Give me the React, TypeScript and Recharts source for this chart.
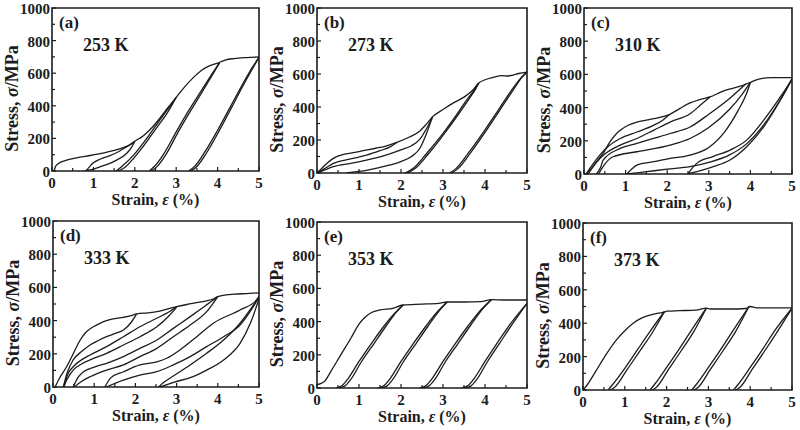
import React from "react";
import { LineChart, Line, XAxis, YAxis, ReferenceArea } from "recharts";

type Pt = [number, number];

const INK = "#1c1c1c";
const FONT = "'Liberation Serif', 'Times New Roman', serif";

const xTicks = [0, 0.5, 1, 1.5, 2, 2.5, 3, 3.5, 4, 4.5, 5];
const yTicks = [0, 100, 200, 300, 400, 500, 600, 700, 800, 900, 1000];

const panelTags = ["(a)", "(b)", "(c)", "(d)", "(e)", "(f)"];
const temperatures = ["253 K", "273 K", "310 K", "333 K", "353 K", "373 K"];

// strain (%) vs stress (MPa); envelope = monotonic loading path, loops = unload/reload branches
const envelope253: Pt[] = [
  [0.05, 0], [0.08, 25], [0.15, 45], [0.3, 62], [0.5, 76], [0.8, 90], [1.1, 103], [1.4, 120],
  [1.7, 142], [1.9, 163], [2.0, 182], [2.2, 215], [2.4, 262], [2.6, 322], [2.8, 388], [3.0, 452],
  [3.2, 515], [3.4, 570], [3.6, 615], [3.8, 645], [4.0, 662], [4.1, 672], [4.2, 682], [4.4, 690],
  [4.7, 696], [5.0, 700],
];
const loops253: Pt[][] = [
  [[0.78, 0], [0.95, 8], [1.16, 26], [1.35, 42], [1.56, 67], [1.8, 107], [1.92, 145], [2.0, 182]],
  [[0.82, 0], [0.92, 30], [1.0, 50], [1.16, 72], [1.35, 90], [1.56, 112], [1.8, 148], [2.0, 182]],
  [[1.55, 0], [1.7, 30], [1.97, 97], [2.17, 160], [2.37, 229], [2.57, 300], [2.77, 371], [3.0, 452]],
  [[1.6, 0], [1.75, 20], [1.97, 77], [2.17, 140], [2.37, 209], [2.57, 280], [2.77, 351], [3.0, 452]],
  [[2.35, 0], [2.5, 35], [2.7, 105], [3.0, 240], [3.3, 370], [3.6, 490], [3.85, 590], [4.05, 665]],
  [[2.4, 0], [2.55, 30], [2.75, 100], [3.05, 240], [3.35, 370], [3.65, 495], [3.9, 600], [4.05, 665]],
  [[3.3, 0], [3.45, 30], [3.7, 120], [4.0, 250], [4.3, 390], [4.6, 530], [4.85, 640], [5.0, 697]],
  [[3.35, 0], [3.5, 28], [3.75, 118], [4.05, 252], [4.35, 395], [4.65, 540], [4.88, 645], [5.0, 697]],
];

const envelope273: Pt[] = [
  [0, 0], [0.1, 25], [0.2, 50], [0.3, 72], [0.4, 90], [0.6, 110], [0.8, 120], [1.0, 130],
  [1.2, 140], [1.4, 150], [1.6, 160], [1.9, 185], [2.2, 218], [2.45, 255], [2.6, 295], [2.75, 340],
  [3.0, 385], [3.25, 425], [3.5, 460], [3.7, 500], [3.85, 545], [4.0, 565], [4.2, 580], [4.4, 590],
  [4.55, 588], [4.65, 592], [4.8, 603], [5.0, 612],
];
const loops273: Pt[][] = [
  [[0, 0], [0.2, 30], [0.39, 58], [0.8, 85], [1.18, 108], [1.5, 135], [1.74, 158], [1.9, 185]],
  [[0, 0], [0.2, 20], [0.39, 38], [0.8, 58], [1.18, 78], [1.6, 105], [1.98, 139], [2.25, 165], [2.45, 205], [2.6, 265], [2.75, 340]],
  [[0.7, 0], [0.9, 7], [1.18, 16], [1.57, 38], [1.98, 68], [2.25, 100], [2.45, 150], [2.6, 235], [2.75, 340]],
  [[2.1, 0], [2.3, 30], [2.6, 115], [3.0, 240], [3.3, 345], [3.6, 455], [3.75, 505], [3.85, 545]],
  [[2.15, 0], [2.35, 30], [2.65, 115], [3.05, 245], [3.35, 350], [3.65, 460], [3.78, 510], [3.85, 545]],
  [[3.15, 0], [3.3, 25], [3.6, 120], [4.0, 262], [4.3, 375], [4.6, 490], [4.85, 575], [5.0, 612]],
  [[3.2, 0], [3.35, 25], [3.65, 120], [4.05, 265], [4.35, 380], [4.65, 495], [4.88, 580], [5.0, 612]],
];

const envelope310: Pt[] = [
  [0.05, 0], [0.2, 40], [0.35, 90], [0.46, 124], [0.6, 185], [0.75, 235], [0.87, 263], [1.05, 292],
  [1.27, 313], [1.5, 325], [1.67, 333], [1.85, 342], [2.05, 358], [2.3, 394], [2.55, 428], [2.8, 450],
  [3.03, 464], [3.3, 495], [3.55, 515], [3.8, 532], [4.0, 552], [4.2, 572], [4.5, 580], [5.0, 580],
];
const loops310: Pt[][] = [
  [[0.05, 0], [0.2, 55], [0.4, 120], [0.6, 170], [0.87, 214], [1.27, 253], [1.67, 293], [1.9, 325], [2.05, 358]],
  [[0.1, 0], [0.3, 70], [0.5, 120], [0.87, 174], [1.27, 214], [1.67, 263], [2.07, 313], [2.55, 363], [2.8, 415], [3.03, 464]],
  [[0.3, 0], [0.4, 40], [0.46, 84], [0.87, 154], [1.27, 184], [1.67, 214], [2.07, 244], [2.55, 283], [3.0, 360], [3.5, 455], [3.9, 545]],
  [[0.35, 0], [0.5, 60], [0.7, 104], [1.27, 134], [2.07, 174], [2.55, 214], [3.0, 280], [3.5, 390], [3.8, 480], [4.0, 552]],
  [[1.03, 0], [1.15, 30], [1.27, 54], [1.67, 74], [2.07, 94], [2.55, 114], [3.0, 160], [3.4, 260], [3.7, 380], [3.9, 480], [4.0, 552]],
  [[1.03, 0], [1.5, 14], [2.0, 29], [2.55, 44], [3.0, 70], [3.5, 115], [3.9, 180], [4.3, 290], [4.7, 440], [5.0, 575]],
  [[2.5, 0], [2.6, 35], [2.71, 64], [3.1, 105], [3.51, 144], [3.91, 204], [4.32, 324], [4.72, 464], [5.0, 570]],
  [[2.48, 0], [2.8, 20], [3.11, 44], [3.51, 84], [3.91, 164], [4.32, 284], [4.72, 444], [5.0, 570]],
];

const envelope333: Pt[] = [
  [0.05, 0], [0.15, 50], [0.33, 122], [0.5, 205], [0.66, 283], [0.8, 330], [0.98, 363], [1.15, 385],
  [1.3, 400], [1.5, 412], [1.71, 420], [1.9, 430], [2.03, 440], [2.3, 447], [2.52, 454], [2.75, 468],
  [3.0, 484], [3.25, 497], [3.49, 508], [3.7, 518], [3.89, 530], [4.0, 545], [4.2, 555], [4.4, 559],
  [4.7, 563], [5.0, 567],
];
const loops333: Pt[][] = [
  [[0.25, 0], [0.35, 90], [0.49, 163], [0.7, 215], [0.9, 253], [1.1, 280], [1.3, 303], [1.5, 322], [1.71, 343], [1.9, 390], [2.03, 440]],
  [[0.27, 0], [0.35, 70], [0.49, 122], [0.7, 165], [0.9, 193], [1.3, 243], [1.71, 303], [2.11, 363], [2.52, 414], [2.8, 450], [3.0, 484]],
  [[0.25, 0], [0.35, 50], [0.49, 102], [0.7, 140], [0.9, 163], [1.3, 203], [1.71, 253], [2.11, 303], [2.52, 363], [2.8, 425], [3.0, 480]],
  [[0.49, 0], [0.6, 55], [0.74, 92], [1.0, 120], [1.3, 143], [1.71, 183], [2.11, 233], [2.52, 283], [2.92, 353], [3.33, 424], [3.7, 490], [3.89, 524], [4.0, 545]],
  [[0.51, 0], [0.7, 35], [0.9, 62], [1.3, 102], [1.71, 133], [2.11, 183], [2.52, 233], [2.92, 303], [3.33, 373], [3.73, 454], [4.0, 545]],
  [[1.26, 0], [1.4, 55], [1.71, 92], [2.11, 133], [2.52, 152], [2.76, 173], [3.08, 223], [3.49, 303], [3.89, 384], [4.54, 464], [4.94, 524], [5.0, 545]],
  [[1.29, 0], [1.71, 42], [2.11, 72], [2.52, 92], [2.92, 133], [3.33, 183], [3.73, 243], [4.14, 303], [4.54, 373], [4.8, 460], [5.0, 540]],
  [[2.56, 0], [2.7, 30], [2.92, 66], [3.33, 133], [3.73, 203], [4.14, 283], [4.54, 384], [4.8, 470], [5.0, 545]],
  [[2.6, 0], [2.95, 30], [3.33, 56], [3.73, 102], [4.14, 163], [4.54, 263], [4.8, 390], [5.0, 530]],
];

const envelope353: Pt[] = [
  [0, 20], [0.1, 28], [0.18, 40], [0.33, 100], [0.57, 201], [0.81, 301], [1.0, 385], [1.15, 428],
  [1.3, 455], [1.5, 470], [1.8, 480], [2.05, 500], [2.5, 505], [2.9, 510], [3.1, 518], [3.5, 518],
  [3.9, 520], [4.15, 532], [4.5, 530], [5.0, 530],
];
const loops353: Pt[][] = [
  [[0.45, 0], [0.6, 15], [0.75, 60], [1.0, 160], [1.3, 270], [1.6, 375], [1.85, 450], [2.05, 500]],
  [[0.5, 0], [0.65, 10], [0.8, 50], [1.05, 155], [1.35, 265], [1.65, 375], [1.9, 460], [2.05, 500]],
  [[1.45, 0], [1.6, 15], [1.75, 60], [2.0, 160], [2.3, 270], [2.6, 375], [2.85, 455], [3.1, 518]],
  [[1.5, 0], [1.65, 10], [1.8, 50], [2.05, 155], [2.35, 265], [2.65, 375], [2.9, 462], [3.1, 518]],
  [[2.45, 0], [2.6, 15], [2.75, 60], [3.0, 160], [3.3, 270], [3.6, 375], [3.9, 470], [4.15, 532]],
  [[2.5, 0], [2.65, 10], [2.8, 50], [3.05, 155], [3.35, 265], [3.65, 375], [3.95, 478], [4.15, 532]],
  [[3.45, 0], [3.6, 15], [3.75, 60], [4.0, 160], [4.3, 275], [4.6, 385], [4.85, 465], [5.0, 510]],
  [[3.5, 0], [3.65, 10], [3.8, 50], [4.05, 155], [4.35, 270], [4.65, 385], [4.88, 468], [5.0, 510]],
];

const envelope373: Pt[] = [
  [0, 0], [0.1, 30], [0.3, 110], [0.52, 200], [0.8, 300], [1.0, 355], [1.2, 400], [1.4, 430],
  [1.6, 448], [1.8, 460], [1.95, 466], [2.0, 472], [2.3, 475], [2.7, 478], [2.95, 490], [3.05, 485],
  [3.5, 485], [3.9, 488], [4.0, 500], [4.15, 492], [4.6, 492], [5.0, 492],
];
const loops373: Pt[][] = [
  [[0.6, 0], [0.7, 30], [1.0, 130], [1.3, 240], [1.6, 350], [1.95, 470]],
  [[0.65, 0], [0.75, 15], [1.05, 120], [1.35, 230], [1.65, 340], [1.95, 470]],
  [[1.6, 0], [1.7, 30], [2.0, 135], [2.3, 245], [2.6, 360], [2.95, 490]],
  [[1.65, 0], [1.75, 15], [2.05, 125], [2.35, 235], [2.65, 350], [2.95, 490]],
  [[2.6, 0], [2.7, 30], [3.0, 135], [3.3, 245], [3.6, 360], [3.97, 500]],
  [[2.65, 0], [2.75, 15], [3.05, 125], [3.35, 235], [3.65, 350], [3.97, 500]],
  [[3.6, 0], [3.7, 30], [4.0, 135], [4.3, 245], [4.6, 360], [5.0, 490]],
  [[3.65, 0], [3.75, 15], [4.05, 125], [4.35, 235], [4.65, 350], [5.0, 490]],
];

const envelopes = [envelope253, envelope273, envelope310, envelope333, envelope353, envelope373];
const loopSets = [loops253, loops273, loops310, loops333, loops353, loops373];

// plot rectangles on the page (left, top, width, height)
const plotBoxes = [
  { left: 52, top: 8, w: 207, h: 163 },
  { left: 317, top: 8, w: 210, h: 165 },
  { left: 584, top: 8, w: 208, h: 166 },
  { left: 53, top: 221, w: 206, h: 166 },
  { left: 317, top: 222, w: 210, h: 166 },
  { left: 583, top: 223, w: 209, h: 167 },
];

// chart margins around each plot rectangle; MT leaves room for the "1000" label
const ML = 52;
const MT = 12;
const MR = 5;
const XH = 40;

function XTick(props: any) {
  const { x, y, payload } = props;
  const v = payload.value as number;
  const major = Number.isInteger(v);
  return (
    <g>
      <line x1={x} x2={x} y1={y} y2={y - (major ? 4 : 3)} stroke={INK} strokeWidth={1.2} />
      {major && (
        <text x={x} y={y + 17} textAnchor="middle" fontFamily={FONT} fontWeight="bold" fontSize={15} fill={INK}>
          {v}
        </text>
      )}
    </g>
  );
}

function YTick(props: any) {
  const { x, y, payload } = props;
  const v = payload.value as number;
  const major = v % 200 === 0;
  return (
    <g>
      <line x1={x} x2={x + (major ? 4 : 3)} y1={y} y2={y} stroke={INK} strokeWidth={1.2} />
      {major && (
        <text x={x - 2} y={y + 6} textAnchor="end" fontFamily={FONT} fontWeight="bold" fontSize={15} fill={INK}>
          {v}
        </text>
      )}
    </g>
  );
}

function toRows(pts: Pt[]) {
  return pts.map(([x, y]) => ({ x, y }));
}

function Panel({ index }: { index: number }) {
  const box = plotBoxes[index];
  const width = box.w + ML + MR;
  const height = box.h + MT + XH;
  const curves = [envelopes[index], ...loopSets[index]];
  return (
    <div style={{ position: "absolute", left: box.left - ML, top: box.top - MT, width, height }}>
      <LineChart width={width} height={height} margin={{ top: MT, right: MR, bottom: 0, left: 0 }}>
        <XAxis
          dataKey="x"
          type="number"
          domain={[0, 5]}
          ticks={xTicks}
          interval={0}
          allowDataOverflow
          height={XH}
          tickSize={0}
          tickMargin={0}
          tickLine={false}
          axisLine={false}
          tick={<XTick />}
        />
        <YAxis
          type="number"
          domain={[0, 1000]}
          ticks={yTicks}
          interval={0}
          allowDataOverflow
          width={ML}
          tickSize={0}
          tickMargin={0}
          tickLine={false}
          axisLine={false}
          tick={<YTick />}
        />
        <ReferenceArea x1={0} x2={5} y1={0} y2={1000} fill="none" stroke={INK} strokeWidth={1.6} />
        {curves.map((pts, i) => (
          <Line
            key={i}
            data={toRows(pts)}
            dataKey="y"
            type="monotone"
            stroke={INK}
            strokeWidth={1.3}
            dot={false}
            activeDot={false}
            isAnimationActive={false}
          />
        ))}
      </LineChart>
      <svg
        width={width}
        height={height}
        style={{ position: "absolute", left: 0, top: 0, overflow: "visible", pointerEvents: "none" }}
        fontFamily={FONT}
        fontWeight="bold"
        fill={INK}
      >
        <text x={ML + 7} y={MT + 20} fontSize={17}>
          {panelTags[index]}
        </text>
        <text x={ML + 31} y={MT + 43} fontSize={18}>
          {temperatures[index]}
        </text>
        <text x={ML + box.w / 2} y={MT + box.h + 34} fontSize={16} textAnchor="middle">
          Strain, <tspan fontStyle="italic">ε</tspan> (%)
        </text>
        <text
          transform={`translate(${ML - 34}, ${MT + box.h / 2 + 9}) rotate(-90)`}
          fontSize={18}
          textAnchor="middle"
        >
          Stress, <tspan fontStyle="italic">σ</tspan>/MPa
        </text>
      </svg>
    </div>
  );
}

export default function App() {
  return (
    <div style={{ position: "absolute", left: 0, top: 0, width: 800, height: 430, background: "#fff" }}>
      {plotBoxes.map((_, i) => (
        <Panel key={i} index={i} />
      ))}
    </div>
  );
}
